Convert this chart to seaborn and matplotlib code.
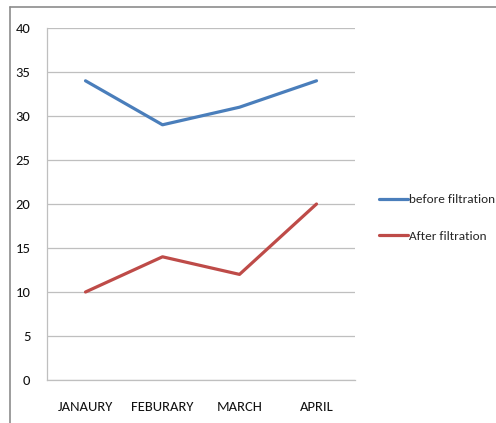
import matplotlib
matplotlib.use("Agg")
import matplotlib.pyplot as plt
from matplotlib.lines import Line2D
import seaborn as sns
import pandas as pd

months = ["JANAURY", "FEBURARY", "MARCH", "APRIL"]
before_filtration = [34, 29, 31, 34]
after_filtration = [10, 14, 12, 20]
series_names = ["before filtration", "After filtration"]
y_ticks = [0, 5, 10, 15, 20, 25, 30, 35, 40]

df = pd.DataFrame({
    "month": months * 2,
    "value": before_filtration + after_filtration,
    "series": [series_names[0]] * 4 + [series_names[1]] * 4,
})

sns.set_style("white")
plt.rcParams["font.family"] = ["Carlito", "Lato", "DejaVu Sans"]

W, H = 496, 423
fig = plt.figure(figsize=(W / 100, H / 100), dpi=100)
ax = fig.add_axes([47 / W, 1 - 380 / H, (355 - 47) / W, (380 - 28) / H])

palette = {series_names[0]: "#4A7EBB", series_names[1]: "#BE4B48"}
sns.lineplot(data=df, x="month", y="value", hue="series", palette=palette,
             sort=False, linewidth=2.3, ax=ax, legend=False)

ax.set_xlim(-0.5, 3.5)
ax.set_ylim(0, 40)
ax.set_yticks(y_ticks)
ax.set_xticks(range(len(months)))
ax.set_xticklabels(months)
ax.set_xticks([i - 0.5 for i in range(len(months) + 1)], minor=True)
ax.tick_params(axis="x", which="major", length=0, pad=15, labelsize=10.5, labelcolor="#111111")
ax.tick_params(axis="x", which="minor", length=5, color="#A6A6A6", direction="out")
ax.tick_params(axis="y", which="major", length=5, color="#A6A6A6", direction="out",
               pad=7, labelsize=10.5, labelcolor="#111111")
ax.set_xlabel("")
ax.set_ylabel("")
ax.grid(axis="y", color="#BFBFBF", linewidth=0.9)
ax.set_axisbelow(True)
for side in ("top", "right"):
    ax.spines[side].set_visible(False)
for side in ("left", "bottom"):
    ax.spines[side].set_color("#BFBFBF")
    ax.spines[side].set_linewidth(0.9)

handles = [Line2D([0], [0], color=palette[n], linewidth=2.3) for n in series_names]
fig.legend(handles, series_names, loc="center left",
           bbox_to_anchor=(374 / W, 1 - 218 / H), frameon=False,
           handlelength=2.2, handletextpad=0.05, labelspacing=1.95,
           fontsize=9.5, borderaxespad=0)

# outer frame lines
fig.add_artist(Line2D([10 / W, 1.0], [1 - 7 / H, 1 - 7 / H], color="#8C8C8C", linewidth=1.2))
fig.add_artist(Line2D([10 / W, 10 / W], [0, 1 - 7 / H], color="#8C8C8C", linewidth=1.2))

fig.savefig("out.png", dpi=100, facecolor="white")
